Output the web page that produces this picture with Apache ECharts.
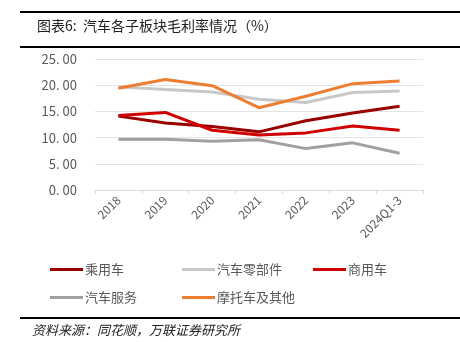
<!DOCTYPE html>
<html><head><meta charset="utf-8">
<script src="https://cdn.jsdelivr.net/npm/echarts@6/dist/echarts.min.js"></script>
<style>html,body{margin:0;padding:0;background:#fff}#c{width:460px;height:342px}</style>
</head><body><div id="c"></div>
<script>
const categories = ['2018','2019','2020','2021','2022','2023','2024Q1-3'];
const passengerCar = [14.1, 12.8, 12.1, 11.1, 13.2, 14.7, 16.0];
const autoParts = [19.7, 19.2, 18.7, 17.3, 16.7, 18.6, 18.9];
const commercialCar = [14.2, 14.8, 11.4, 10.5, 10.9, 12.2, 11.4];
const autoService = [9.7, 9.7, 9.3, 9.6, 7.9, 9.0, 7.0];
const motorcycle = [19.4, 21.1, 19.9, 15.7, 17.9, 20.3, 20.8];
const seriesNames = ['乘用车','汽车零部件','商用车','汽车服务','摩托车及其他'];
const colors = ['#990000','#C8C8C8','#D00000','#A0A0A0','#ED7D31'];
const yTicks = [0,5,10,15,20,25];

const font = '"Noto Sans CJK SC", sans-serif';
const chart = echarts.init(document.getElementById('c'));
const dataArr = [passengerCar, autoParts, commercialCar, autoService, motorcycle];
const legendPos = [[45,258],[177,258],[308,258],[45,286],[177,286]];
chart.setOption({
  animation:false,
  grid:{left:95,right:37,top:59,bottom:152},
  graphic:[
    {type:'rect',shape:{x:20,y:11,width:440,height:2},style:{fill:'#000'}},
    {type:'rect',shape:{x:20,y:46,width:440,height:2},style:{fill:'#000'}},
    {type:'text',left:37,top:19,style:{text:'图表6:  汽车各子板块毛利率情况（%）',font:'14px '+font,fill:'#222'}},
    {type:'rect',shape:{x:20,y:317,width:440,height:2},style:{fill:'#000'}},
    {type:'text',left:32,top:324,style:{text:'资料来源：同花顺，万联证券研究所',font:'italic 13px '+font,fill:'#222'}}
  ],
  legend: seriesNames.map((n,i)=>({
    data:[n], left:legendPos[i][0], top:legendPos[i][1], itemWidth:33, itemHeight:3, itemGap:2,
    icon:'rect', textStyle:{fontFamily:font,fontSize:13,color:'#595959',padding:[0,0,0,-3]}
  })),
  xAxis:{type:'category',data:categories,boundaryGap:true,
    axisLine:{lineStyle:{color:'#d9d9d9'}},
    axisTick:{show:true,alignWithLabel:false,length:4,lineStyle:{color:'#d9d9d9'}},
    axisLabel:{rotate:45,color:'#595959',fontSize:12,fontFamily:font,margin:8,interval:0}},
  yAxis:{type:'value',min:0,max:25,interval:5,
    axisLine:{show:false},axisTick:{show:false},
    splitLine:{lineStyle:{color:'#e3e3e3',width:1}},
    axisLabel:{color:'#595959',fontSize:13,fontFamily:font,margin:18,
      formatter:v=>v.toFixed(2).replace('.', '. ')}},
  series: seriesNames.map((n,i)=>({
    name:n,type:'line',data:dataArr[i],symbol:'none',
    lineStyle:{width:3,color:colors[i]},itemStyle:{color:colors[i]}
  }))
});
</script></body></html>
